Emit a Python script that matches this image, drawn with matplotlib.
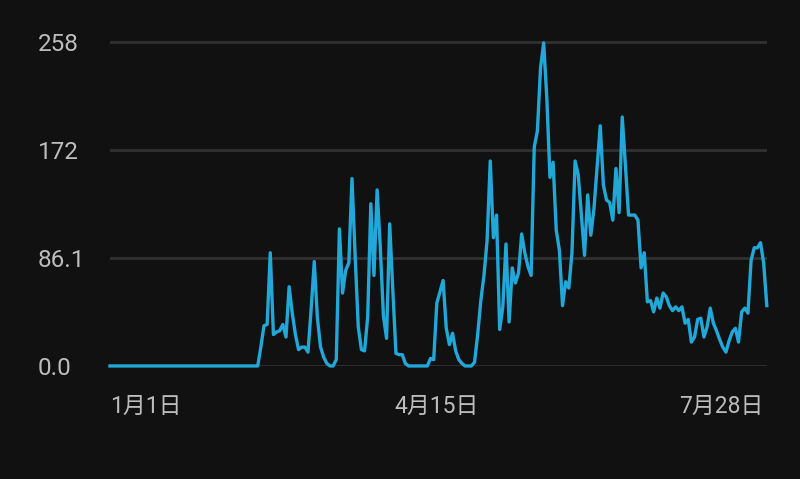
import numpy as np
import matplotlib.pyplot as plt

# daily values, Jan 1 (day 0) .. day 209
values = [0] * 48 + [
    15, 32, 33, 90, 25, 27, 28, 33, 23, 63,          # 48-57
    42, 25, 13, 15, 15, 11, 45, 83, 38, 15,          # 58-67
    7, 2, 0, 0, 5, 109, 58, 76, 82, 149,             # 68-77
    88, 31, 13, 12, 39, 129, 72, 140, 95, 40,        # 78-87
    22, 113, 60, 10, 9, 9, 2, 0, 0, 0,               # 88-97
    0, 0, 0, 0, 6, 5, 50, 59, 68, 30,                # 98-107
    17, 26, 12, 5, 2, 0, 0, 0, 3, 25,                # 108-117
    52, 72, 100, 163, 102, 120, 29, 47, 97, 35,      # 118-127
    78, 66, 74, 105, 90, 79, 72, 174, 187, 237,      # 128-137
    257, 213, 150, 162, 108, 92, 48, 67, 62, 90,     # 138-147
    163, 152, 120, 88, 136, 104, 125, 158, 191, 144, # 148-157
    132, 130, 116, 157, 122, 198, 160, 120, 120, 120,# 158-167
    116, 78, 90, 51, 52, 43, 54, 46, 58, 55,         # 168-177
    48, 44, 47, 44, 47, 34, 37, 19, 23, 37,          # 178-187
    38, 23, 31, 46, 34, 28, 21, 15, 11, 20,          # 188-197
    27, 30, 19, 43, 46, 42, 84, 94, 94, 98,          # 198-207
    82, 48,                                          # 208-209
]
days = np.arange(len(values))

ytick_vals = [0, 86.1, 172, 258]
ytick_labels = ["0.0", "86.1", "172", "258"]
xtick_days = [0, 104, 208]
xtick_labels = ["1月1日", "4月15日", "7月28日"]

bg = "#111111"
fig = plt.figure(figsize=(8, 4.79), dpi=100, facecolor=bg)
ax = fig.add_axes([0.1375, 0.236, 0.821, 0.678], facecolor=bg)

for y in ytick_vals:
    ax.axhline(y, color="#313131", lw=2, zorder=1)

ax.plot(days, values, color="#22a8d8", lw=2.4, zorder=3, clip_on=False,
        solid_joinstyle="round")

ax.set_xlim(0, len(values) - 1)
ax.set_ylim(0, 258.3)

for s in ax.spines.values():
    s.set_visible(False)

ax.set_yticks(ytick_vals)
ax.set_yticklabels(ytick_labels, ha="left", fontsize=17.5, color="#bdbdbd",
                   family=["Roboto", "DejaVu Sans"])
ax.tick_params(axis="y", length=0, pad=52)

ax.set_xticks(xtick_days)
ax.set_xticklabels(xtick_labels, fontsize=16.5, color="#bdbdbd",
                   family=["Roboto", "Noto Sans CJK SC"])
ax.tick_params(axis="x", length=0, pad=21)
lbls = ax.get_xticklabels()
lbls[0].set_ha("left")
lbls[-1].set_ha("right")

fig.savefig("out.png", dpi=100, facecolor=bg)
